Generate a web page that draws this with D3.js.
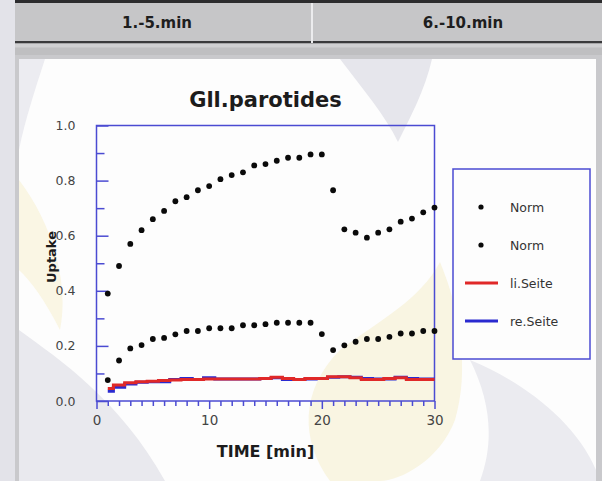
<!DOCTYPE html>
<html>
<head>
<meta charset="utf-8">
<script src="https://cdn.jsdelivr.net/npm/d3@7"></script>
<style>
  html, body { margin: 0; padding: 0; background: #e3e3e9; }
  svg { display: block; }
  text { font-family: "DejaVu Sans", sans-serif; }
</style>
</head>
<body>
<script>
// Time points (minutes)
const minutes = d3.range(1, 31);

// Reference curves (dots)
const normUpper = [0.39, 0.49, 0.57, 0.62, 0.66, 0.69, 0.725, 0.74, 0.765, 0.78,
                   0.805, 0.82, 0.83, 0.855, 0.86, 0.872, 0.883, 0.883, 0.895, 0.895,
                   0.765, 0.623, 0.611, 0.593, 0.611, 0.623, 0.651, 0.662, 0.685, 0.702];
const normLower = [0.076, 0.147, 0.191, 0.203, 0.225, 0.229, 0.242, 0.254, 0.254, 0.264,
                   0.264, 0.264, 0.275, 0.275, 0.279, 0.284, 0.284, 0.284, 0.284, 0.243,
                   0.185, 0.202, 0.215, 0.225, 0.225, 0.233, 0.245, 0.245, 0.254, 0.254];

// Measured uptake, left and right side
const liSeite = [0.045, 0.058, 0.066, 0.070, 0.072, 0.074, 0.076, 0.078, 0.078, 0.080,
                 0.080, 0.080, 0.080, 0.080, 0.082, 0.086, 0.082, 0.078, 0.082, 0.082,
                 0.088, 0.088, 0.084, 0.078, 0.078, 0.082, 0.084, 0.078, 0.078, 0.078];
const reSeite = [0.035, 0.050, 0.062, 0.068, 0.070, 0.070, 0.078, 0.082, 0.078, 0.084,
                 0.080, 0.080, 0.080, 0.080, 0.082, 0.084, 0.078, 0.078, 0.080, 0.082,
                 0.086, 0.088, 0.086, 0.082, 0.080, 0.080, 0.086, 0.082, 0.080, 0.080];

const tabLabels = ["1.-5.min", "6.-10.min"];
const legendLabels = ["Norm", "Norm", "li.Seite", "re.Seite"];
const yMajorTicks = [0, 0.2, 0.4, 0.6, 0.8, 1.0];
const yMinorTicks = [0.1, 0.3, 0.5, 0.7, 0.9];
const xLabelTicks = [0, 10, 20, 30];

const W = 602, H = 481;
const axisBlue = "#4b4bd2";
const lineRed = "#e02828";
const lineBlue = "#2a2ad0";

const svg = d3.select("body").append("svg").attr("width", W).attr("height", H);

// ---- window chrome: tab strip and panel ----
svg.append("rect").attr("x", 0).attr("y", 0).attr("width", W).attr("height", H).attr("fill", "#e3e3e9");
svg.append("rect").attr("x", 15).attr("y", 0).attr("width", W - 15).attr("height", 58).attr("fill", "#bfbfc1");
svg.append("rect").attr("x", 15).attr("y", 3).attr("width", W - 15).attr("height", 39).attr("fill", "#c6c6c8");
svg.append("rect").attr("x", 15).attr("y", 0).attr("width", W - 15).attr("height", 3).attr("fill", "#2c2c2e");
svg.append("rect").attr("x", 15).attr("y", 41).attr("width", W - 15).attr("height", 2.5).attr("fill", "#3a3a3c");
svg.append("rect").attr("x", 15).attr("y", 43.5).attr("width", W - 15).attr("height", 4).attr("fill", "#d0d0d2");
svg.append("rect").attr("x", 311).attr("y", 3).attr("width", 2).attr("height", 40).attr("fill", "#ececee");

const tabCenters = [157, 463];
svg.selectAll("text.tab").data(tabLabels).join("text")
  .attr("class", "tab")
  .attr("x", (d, i) => tabCenters[i]).attr("y", 28)
  .attr("text-anchor", "middle")
  .attr("font-size", 15).attr("font-weight", "bold").attr("fill", "#1e1e1e")
  .text(d => d);

// panel
svg.append("rect").attr("x", 15).attr("y", 55).attr("width", W - 15).attr("height", H - 55).attr("fill", "#c9c9cc");
svg.append("rect").attr("x", 19).attr("y", 59).attr("width", 577).attr("height", H - 59).attr("fill", "#fdfdfd");

// faint background decoration
const deco = svg.append("g");
deco.append("path").attr("fill", "#e6e6ec")
  .attr("d", "M340,59 L432,59 C425,90 410,118 398,142 C385,115 362,88 340,59 Z");
deco.append("path").attr("fill", "#e9e9ee")
  .attr("d", "M19,330 C60,360 120,400 165,481 L19,481 Z");
deco.append("path").attr("fill", "#faf6e4")
  .attr("d", "M19,180 C50,220 70,280 60,330 C45,300 30,280 19,270 Z");
deco.append("path").attr("fill", "#f9f5e2")
  .attr("d", "M440,262 C460,310 470,370 455,420 C440,460 400,481 380,481 L330,481 C300,440 300,390 340,350 C380,320 420,300 440,262 Z");
deco.append("path").attr("fill", "#ebebf0")
  .attr("d", "M470,360 C520,380 575,420 596,470 L596,481 L480,481 C495,440 490,400 470,360 Z");
deco.append("path").attr("fill", "#ececf1")
  .attr("d", "M19,59 L45,59 C35,90 25,120 19,150 Z");

// ---- chart ----
const x = d3.scaleLinear().domain([0, 30]).range([96.5, 434.5]);
const y = d3.scaleLinear().domain([0, 1]).range([401, 125.5]);

svg.append("text")
  .attr("x", (x(0) + x(30)) / 2).attr("y", 107)
  .attr("text-anchor", "middle")
  .attr("font-size", 21).attr("font-weight", "bold").attr("fill", "#1c1c1c")
  .text("Gll.parotides");

// y axis, major ticks with labels (ticks point inwards)
const yAxis = svg.append("g").attr("transform", `translate(${x(0)},0)`)
  .call(d3.axisLeft(y).tickValues(yMajorTicks).tickSize(-12).tickPadding(21)
    .tickFormat(d3.format(".1f")));
yAxis.select(".domain").remove();
yAxis.selectAll(".tick line").attr("stroke", axisBlue).attr("stroke-width", 1.5);
yAxis.selectAll(".tick text").attr("font-size", 12.5).attr("fill", "#444");

// y axis, minor ticks
const yMinor = svg.append("g").attr("transform", `translate(${x(0)},0)`)
  .call(d3.axisLeft(y).tickValues(yMinorTicks).tickSize(-8).tickFormat(""));
yMinor.select(".domain").remove();
yMinor.selectAll(".tick line").attr("stroke", axisBlue).attr("stroke-width", 1.5);

// x axis, minute ticks pointing outwards
const xAxis = svg.append("g").attr("transform", `translate(0,${y(0)})`)
  .call(d3.axisBottom(x).tickValues(d3.range(0, 31)).tickSize(5).tickPadding(9)
    .tickFormat(d => xLabelTicks.includes(d) ? d : ""));
xAxis.select(".domain").remove();
xAxis.selectAll(".tick line").attr("stroke", axisBlue).attr("stroke-width", 1.5)
  .attr("y2", d => xLabelTicks.includes(d) ? 8 : 5);
xAxis.selectAll(".tick text").attr("font-size", 13.5).attr("fill", "#444").attr("dy", "0.71em");

// plot frame
svg.append("rect")
  .attr("x", x(0)).attr("y", y(1))
  .attr("width", x(30) - x(0)).attr("height", y(0) - y(1))
  .attr("fill", "none").attr("stroke", axisBlue).attr("stroke-width", 1.5);

svg.append("text")
  .attr("x", (x(0) + x(30)) / 2).attr("y", 457)
  .attr("text-anchor", "middle")
  .attr("font-size", 16).attr("font-weight", "bold").attr("fill", "#1c1c1c")
  .text("TIME [min]");

svg.append("text")
  .attr("transform", "translate(56,257) rotate(-90)")
  .attr("text-anchor", "middle")
  .attr("font-size", 13).attr("font-weight", "bold").attr("fill", "#1c1c1c")
  .text("Uptake");

// side curves, drawn as steps
const stepLine = d3.line().x((d, i) => x(minutes[i])).y(d => y(d)).curve(d3.curveStep);
svg.append("path").datum(reSeite).attr("d", stepLine)
  .attr("fill", "none").attr("stroke", lineBlue).attr("stroke-width", 3);
svg.append("path").datum(liSeite).attr("d", stepLine)
  .attr("fill", "none").attr("stroke", lineRed).attr("stroke-width", 3);

// dot series
[normUpper, normLower].forEach(series => {
  svg.append("g").selectAll("circle").data(series).join("circle")
    .attr("cx", (d, i) => x(minutes[i])).attr("cy", d => y(d))
    .attr("r", 2.9).attr("fill", "#0a0a0a");
});

// ---- legend ----
const lg = svg.append("g");
lg.append("rect").attr("x", 453).attr("y", 169).attr("width", 137).attr("height", 190)
  .attr("fill", "#fdfdfd").attr("stroke", axisBlue).attr("stroke-width", 1.5);
const legendY = [207, 245, 283, 321];
const legendKind = ["dot", "dot", lineRed, lineBlue];
legendLabels.forEach((lab, i) => {
  if (legendKind[i] === "dot") {
    lg.append("circle").attr("cx", 481).attr("cy", legendY[i]).attr("r", 2.6).attr("fill", "#0a0a0a");
  } else {
    lg.append("line").attr("x1", 465).attr("x2", 498).attr("y1", legendY[i]).attr("y2", legendY[i])
      .attr("stroke", legendKind[i]).attr("stroke-width", 3);
  }
  lg.append("text").attr("x", 510).attr("y", legendY[i] + 4.5)
    .attr("font-size", 12.5).attr("fill", "#333").text(lab);
});
</script>
</body>
</html>
